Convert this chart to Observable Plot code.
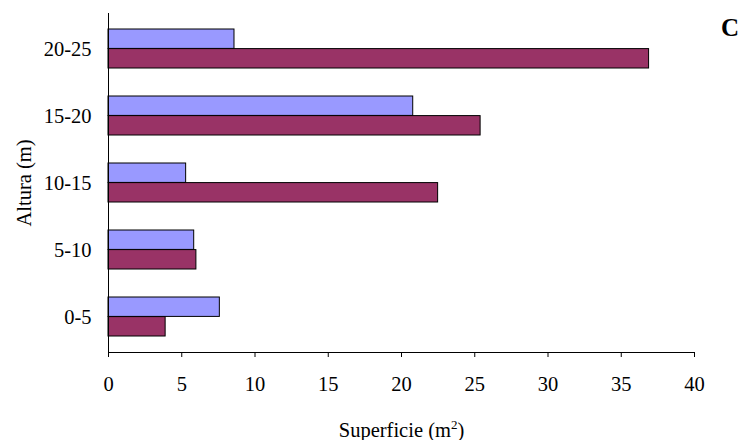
<!DOCTYPE html>
<html>
<head>
<meta charset="utf-8">
<script src="https://cdn.jsdelivr.net/npm/d3@7"></script>
<script src="https://cdn.jsdelivr.net/npm/@observablehq/plot@0.6"></script>
<style>
  html, body { margin: 0; padding: 0; background: #fff; }
  #wrap { position: relative; width: 744px; height: 440px; }
  #panel { position: absolute; left: 721px; top: 15px; font-family: "Liberation Serif", serif; font-weight: bold; font-size: 25px; line-height: 25px; color: #000; }
</style>
</head>
<body>
<div id="wrap"><div id="chart"></div><div id="panel">C</div></div>
<script>
const categories = ["0-5", "5-10", "10-15", "15-20", "20-25"];
const seriesBlue = [7.6, 5.85, 5.3, 20.8, 8.6];
const seriesMaroon = [3.9, 6.0, 22.5, 25.4, 36.9];
const xTicks = [0, 5, 10, 15, 20, 25, 30, 35, 40];

const blueData = categories.map((c, i) => ({cat: c, value: seriesBlue[i]}));
const maroonData = categories.map((c, i) => ({cat: c, value: seriesMaroon[i]}));

const half = 19.6;

const chart = Plot.plot({
  width: 744,
  height: 440,
  marginTop: 13,
  marginBottom: 88,
  marginLeft: 108,
  marginRight: 50,
  style: {fontFamily: "Liberation Serif, serif", fontSize: "20.5px", color: "#000", background: "#fff"},
  x: {domain: [0, 40]},
  y: {type: "band", domain: categories.slice().reverse(), paddingInner: 0.42, paddingOuter: 0.21},
  marks: [
    Plot.barX(blueData, {y: "cat", x: "value", fill: "#9999FF", stroke: "#000", strokeWidth: 1, insetBottom: half}),
    Plot.barX(maroonData, {y: "cat", x: "value", fill: "#993366", stroke: "#000", strokeWidth: 1, insetTop: half}),
    Plot.ruleX([0], {stroke: "#000", strokeWidth: 1}),
    Plot.frame({anchor: "bottom", stroke: "#000", strokeWidth: 1}),
    Plot.axisX({ticks: xTicks, tickFormat: d => String(d), tickSize: 5, tickPadding: 19, label: "Superficie (m2)", labelAnchor: "center", labelOffset: 84, labelArrow: "none"}),
    Plot.axisY({tickSize: 0, tickPadding: 17, label: "Altura (m)", labelAnchor: "center", labelOffset: 92, labelArrow: "none"})
  ]
});
document.getElementById("chart").appendChild(chart);
// render the "2" of the x label as a real superscript
chart.querySelectorAll("text").forEach(t => {
  if (t.textContent === "Superficie (m2)") {
    const ns = "http://www.w3.org/2000/svg";
    while (t.firstChild) t.removeChild(t.firstChild);
    const a = document.createElementNS(ns, "tspan"); a.textContent = "Superficie (m";
    const b = document.createElementNS(ns, "tspan"); b.textContent = "2"; b.setAttribute("font-size", "13px"); b.setAttribute("dy", "-0.55em");
    const c = document.createElementNS(ns, "tspan"); c.textContent = ")"; c.setAttribute("dy", "0.36em");
    t.append(a, b, c);
  }
});
</script>
</body>
</html>
